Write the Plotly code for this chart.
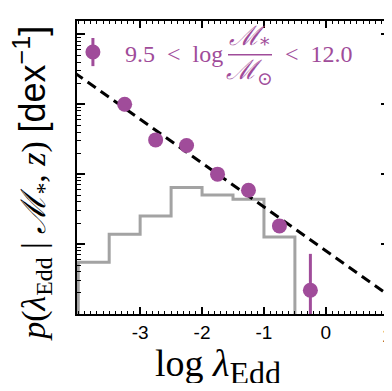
import numpy as np
import plotly.graph_objects as go

# Data (log10 of p(lambda_Edd | M*, z))
pt_x = [-3.25, -2.75, -2.25, -1.75, -1.25, -0.75, -0.25]
pt_logp = [-2.00, -2.51, -2.59, -3.00, -3.23, -3.74, -4.66]
pt_err_up = [0.10, 0.05, 0.05, 0.05, 0.05, 0.08, 0.52]     # dex
pt_err_dn = [0.10, 0.05, 0.05, 0.05, 0.05, 0.10, 0.70]     # dex

fit_x = [-4.06, 1.06]
fit_logp = [-1.55, -4.76]

hist_edges = [-4.0, -3.5, -3.0, -2.5, -2.0, -1.5, -1.0, -0.5]
hist_logp = [-4.26, -3.86, -3.60, -3.19, -3.30, -3.36, -3.90]
hist_floor = -5.3

x_ticks = [-3, -2, -1, 0, 1]
x_tick_labels = ["-3", "-2", "-1", "0", "1"]
x_minor = [round(-4.0 + 0.1 * i, 1) for i in range(51)]
y_decades = [-5, -4, -3, -2, -1]
y_minor = [10.0 ** d * m for d in y_decades for m in range(2, 10)]

purple = "#a04c9a"
grey = "#a3a3a3"

p = 10.0 ** np.array(pt_logp)
up = 10.0 ** (np.array(pt_logp) + np.array(pt_err_up)) - p
dn = p - 10.0 ** (np.array(pt_logp) - np.array(pt_err_dn))

hx = [hist_edges[0]] + hist_edges
hy = [10.0 ** hist_floor] + [10.0 ** v for v in hist_logp] + [10.0 ** hist_floor]

fig = go.Figure()
fig.add_trace(go.Scatter(x=hx, y=hy, mode="lines", line=dict(color=grey, width=3, shape="hv"),
                         showlegend=False, hoverinfo="skip"))
fig.add_trace(go.Scatter(x=fit_x, y=[10.0 ** v for v in fit_logp], mode="lines",
                         line=dict(color="black", width=3, dash="10px,6px"), showlegend=False))
fig.add_trace(go.Scatter(x=pt_x, y=p, mode="markers",
                         marker=dict(color=purple, size=15),
                         error_y=dict(type="data", symmetric=False, array=up, arrayminus=dn,
                                      color=purple, thickness=3, width=0),
                         showlegend=False))

serif = "Liberation Serif"
sans = "Liberation Sans"

# page body has an 8px default margin: figure sized so the page fits the 392x391 window exactly,
# plot area lands at x 77-389, y 21-314
fig.update_layout(
    width=384, height=375,
    margin=dict(l=69, r=3, t=13, b=69),
    paper_bgcolor="white", plot_bgcolor="white",
    xaxis=dict(range=[-4.02, 1.02], tickmode="array", tickvals=x_ticks,
               ticktext=x_tick_labels[:-1] + [""],
               ticks="inside", ticklen=7, tickwidth=1.5, tickcolor="black",
               showline=True, linecolor="black", linewidth=2, mirror="ticks",
               showgrid=False, zeroline=False, automargin=False,
               tickfont=dict(family=sans, size=19, color="black"),
               minor=dict(ticks="inside", tickmode="array", tickvals=x_minor, ticklen=3,
                          tickwidth=1, tickcolor="black", showgrid=False)),
    yaxis=dict(type="log", range=[-5.0, -0.81], tickmode="array", tickvals=[10.0 ** d for d in y_decades],
               showticklabels=False,
               ticks="inside", ticklen=8, tickwidth=1.5, tickcolor="black",
               showline=True, linecolor="black", linewidth=2, mirror="ticks",
               showgrid=False, zeroline=False, automargin=False,
               minor=dict(ticks="inside", tickmode="array", tickvals=y_minor, ticklen=4,
                          tickwidth=1, tickcolor="black", showgrid=False)),
)

# last tick label (at the very edge of the figure; plotly would hide it)
fig.add_annotation(xref="x", yref="paper", x=x_ticks[-1], y=-0.072, text=x_tick_labels[-1],
                   showarrow=False, xanchor="center", yanchor="middle",
                   font=dict(family=sans, size=19, color="black"))

# axis titles
fig.add_annotation(xref="paper", yref="paper", x=0.452, y=-0.18, showarrow=False,
                   xanchor="center", yanchor="middle",
                   text="log&nbsp;<i>λ</i><sub><span style='font-size:32px'>Edd</span></sub>",
                   font=dict(family=serif, size=38, color="black"))
fig.add_annotation(xref="paper", yref="paper", x=-0.145, y=0.447, showarrow=False, textangle=-90,
                   xanchor="center", yanchor="middle",
                   text="<i>p</i>(<i>λ</i><sub>Edd</sub> | <span style='font-family:DejaVu Serif'><i>ℳ</i></span><sub>*</sub>, <i>z</i>) "
                        "<span style='font-family:Liberation Sans;font-size:36px'>[dex<sup>−1</sup>]</span>",
                   font=dict(family=serif, size=34, color="black"))

# legend key (circle with error bar)
lx, ly = 0.051, 0.894
fig.add_shape(type="line", xref="paper", yref="paper", x0=lx, x1=lx, y0=ly - 0.048, y1=ly + 0.048,
              line=dict(color=purple, width=3))
fig.add_shape(type="circle", xref="paper", yref="paper", xsizemode="pixel", ysizemode="pixel",
              xanchor=lx, yanchor=ly, x0=-7.5, x1=7.5, y0=-7.5, y1=7.5,
              fillcolor=purple, line=dict(color=purple, width=0))

tf = dict(family=serif, size=24, color=purple)
mf = dict(family="DejaVu Serif", size=27, color=purple)
fig.add_annotation(xref="paper", yref="paper", x=0.147, y=0.887,
                   text="9.5&nbsp;&nbsp;&lt;&nbsp;&nbsp;log", showarrow=False,
                   xanchor="left", yanchor="middle", font=tf)
fig.add_annotation(xref="paper", yref="paper", x=0.553, y=0.942, text="<i>ℳ</i><sub>*</sub>", showarrow=False,
                   xanchor="center", yanchor="middle", font=mf)
fig.add_annotation(xref="paper", yref="paper", x=0.553, y=0.827, text="<i>ℳ</i><sub>⊙</sub>", showarrow=False,
                   xanchor="center", yanchor="middle", font=mf)
fig.add_shape(type="line", xref="paper", yref="paper", x0=0.484, x1=0.625, y0=0.885, y1=0.885,
              line=dict(color=purple, width=1.5))
fig.add_annotation(xref="paper", yref="paper", x=0.66, y=0.887, text="&lt;&nbsp;&nbsp;12.0", showarrow=False,
                   xanchor="left", yanchor="middle", font=tf)

fig.write_html("out.html")
